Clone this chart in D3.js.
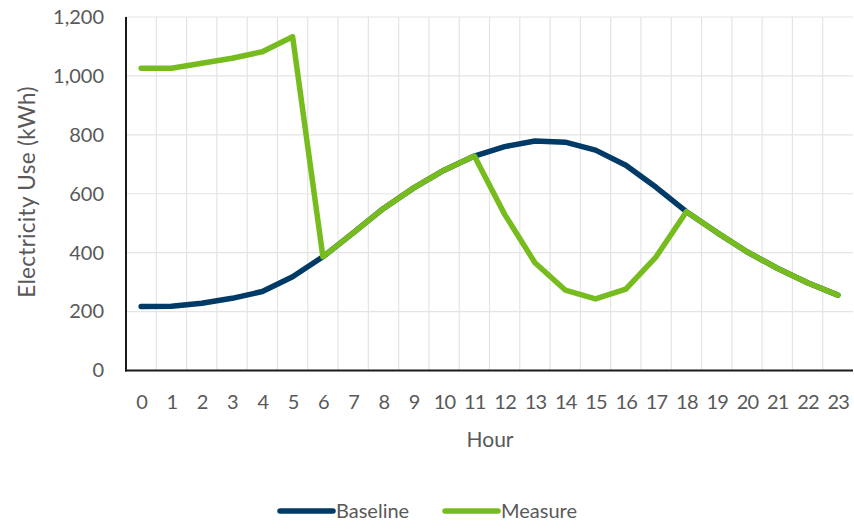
<!DOCTYPE html>
<html>
<head>
<meta charset="utf-8">
<script src="https://cdn.jsdelivr.net/npm/d3@7"></script>
<style>
  html, body { margin: 0; padding: 0; background: #fff; }
  svg { display: block; font-family: Lato, "Open Sans", sans-serif; }
</style>
</head>
<body>
<svg id="chart" width="854" height="529"></svg>
<script>
// Hourly electricity use (kWh)
const hours = d3.range(0, 24);
const baseline = [217, 218, 228, 245, 268, 318, 386, 467, 550, 620, 680, 728, 760, 779, 775, 748, 697, 622, 539, 469, 403, 347, 298, 256];
const measure  = [1026, 1026, 1043, 1060, 1082, 1133, 386, 467, 550, 620, 680, 728, 530, 366, 273, 243, 276, 386, 539, 469, 403, 347, 298, 256];
const yTicks = [0, 200, 400, 600, 800, 1000, 1200];
const seriesNames = ["Baseline", "Measure"];
const seriesColors = ["#003A66", "#77BC1F"];

const svg = d3.select("#chart");
const plot = { left: 126, right: 853, top: 17, bottom: 370.5 };

const xBand = d3.scaleBand().domain(hours).range([plot.left, plot.right]).paddingInner(0).paddingOuter(0);
const xc = h => xBand(h) + xBand.bandwidth() / 2;
const y = d3.scaleLinear().domain([0, 1200]).range([plot.bottom, plot.top]);

// gridlines
const grid = svg.append("g").attr("stroke", "#e4e4e4").attr("stroke-width", 1.2);
grid.selectAll("line.h").data(yTicks.filter(v => v > 0)).join("line")
  .attr("x1", plot.left).attr("x2", plot.right)
  .attr("y1", d => y(d)).attr("y2", d => y(d));
grid.selectAll("line.v").data(hours.slice(1)).join("line")
  .attr("x1", d => xBand(d)).attr("x2", d => xBand(d))
  .attr("y1", plot.top).attr("y2", plot.bottom);

// y axis labels
const yAxis = svg.append("g").attr("transform", `translate(${plot.left},0)`)
  .call(d3.axisLeft(y).tickValues(yTicks).tickSize(0).tickPadding(22).tickFormat(d3.format(",")));
yAxis.select(".domain").remove();
yAxis.selectAll("text").attr("font-size", 20).attr("fill", "#595959").attr("font-family", "Lato, sans-serif");

// x axis labels
const xAxis = svg.append("g").attr("transform", `translate(0,${plot.bottom})`)
  .call(d3.axisBottom(d3.scalePoint().domain(hours).range([xc(0), xc(23)])).tickSize(0).tickPadding(24));
xAxis.select(".domain").remove();
xAxis.selectAll("text").attr("font-size", 20).attr("fill", "#595959").attr("font-family", "Lato, sans-serif")
  .attr("letter-spacing", -0.8);

// axis lines
svg.append("line").attr("x1", plot.left).attr("x2", plot.left).attr("y1", plot.top).attr("y2", plot.bottom + 1)
  .attr("stroke", "#1a1a1a").attr("stroke-width", 2);
svg.append("line").attr("x1", plot.left - 1).attr("x2", plot.right).attr("y1", plot.bottom).attr("y2", plot.bottom)
  .attr("stroke", "#1a1a1a").attr("stroke-width", 2);

// series lines
const line = d3.line().x((d, i) => xc(hours[i])).y(d => y(d));
[baseline, measure].forEach((vals, k) => {
  svg.append("path").datum(vals)
    .attr("d", line)
    .attr("fill", "none")
    .attr("stroke", seriesColors[k])
    .attr("stroke-width", 5.5)
    .attr("stroke-linejoin", "round")
    .attr("stroke-linecap", "round");
});

// axis titles
svg.append("text").attr("x", 490).attr("y", 447).attr("text-anchor", "middle")
  .attr("font-size", 21).attr("fill", "#595959").text("Hour");
svg.append("text").attr("transform", "translate(35,192) rotate(-90)").attr("text-anchor", "middle")
  .attr("font-size", 22.5).attr("letter-spacing", 0.3).attr("fill", "#595959").text("Electricity Use (kWh)");

// legend
const legendX = [280, 445];
const legend = svg.append("g");
seriesNames.forEach((name, k) => {
  legend.append("line").attr("x1", legendX[k]).attr("x2", legendX[k] + 53).attr("y1", 511).attr("y2", 511)
    .attr("stroke", seriesColors[k]).attr("stroke-width", 5.5).attr("stroke-linecap", "round");
  legend.append("text").attr("x", legendX[k] + 56).attr("y", 518).attr("font-size", 20).attr("fill", "#595959").text(name);
});
</script>
</body>
</html>
